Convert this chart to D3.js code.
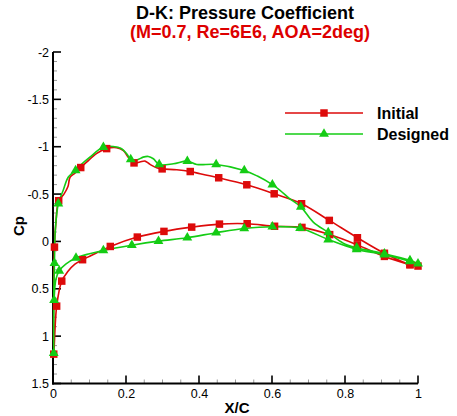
<!DOCTYPE html>
<html>
<head>
<meta charset="utf-8">
<script src="https://cdn.jsdelivr.net/npm/d3@7"></script>
<style>
  html, body { margin: 0; padding: 0; background: #fff; }
  svg { display: block; font-family: "Liberation Sans", Arial, sans-serif; }
</style>
</head>
<body>
<svg id="chart" width="457" height="416"></svg>
<script>
// ---- Data (X/C, Cp) ----
const titleText = "D-K: Pressure Coefficient";
const subtitleText = "(M=0.7, Re=6E6, AOA=2deg)";
const seriesNames = ["Initial", "Designed"];
const xTicks = [0, 0.2, 0.4, 0.6, 0.8, 1];
const xTickLabels = ["0", "0.2", "0.4", "0.6", "0.8", "1"];
const yTicks = [-2, -1.5, -1, -0.5, 0, 0.5, 1, 1.5];
const yTickLabels = ["-2", "-1.5", "-1", "-0.5", "0", "0.5", "1", "1.5"];

// Initial: upper surface TE -> LE, then lower surface LE -> TE
const initialX = [1.0, 0.978, 0.908, 0.834, 0.757, 0.681, 0.606, 0.531, 0.454, 0.403, 0.376, 0.339, 0.299, 0.284, 0.266, 0.252, 0.238, 0.222, 0.206, 0.193, 0.174, 0.147, 0.12, 0.092, 0.076, 0.06, 0.047, 0.041, 0.03, 0.0156, 0.008, 0.004, 0.002, 0.002,
                  0.010, 0.024, 0.04, 0.06, 0.081, 0.12, 0.157, 0.231, 0.304, 0.380, 0.456, 0.532, 0.607, 0.682, 0.758, 0.834, 0.908, 0.978, 1.0];
const initialCp = [0.26, 0.245, 0.125, -0.039, -0.222, -0.398, -0.503, -0.598, -0.672, -0.715, -0.738, -0.757, -0.766, -0.778, -0.813, -0.848, -0.838, -0.829, -0.89, -0.96, -0.99, -0.98, -0.93, -0.837, -0.78, -0.72, -0.68, -0.58, -0.5, -0.43, -0.2, 0.06, 0.6, 1.19,
                   0.683, 0.419, 0.32, 0.24, 0.193, 0.12, 0.053, -0.046, -0.106, -0.151, -0.183, -0.187, -0.16, -0.148, -0.072, 0.037, 0.158, 0.246, 0.27];
const initialMarkX = [1.0, 0.978, 0.908, 0.834, 0.757, 0.681, 0.606, 0.531, 0.454, 0.376, 0.299, 0.222, 0.147, 0.076, 0.0156, 0.004, 0.002,
                      0.010, 0.024, 0.081, 0.157, 0.231, 0.304, 0.380, 0.456, 0.532, 0.607, 0.682, 0.758, 0.834, 0.908, 0.978];
const initialMarkCp = [0.26, 0.245, 0.125, -0.039, -0.222, -0.398, -0.503, -0.598, -0.672, -0.738, -0.766, -0.829, -0.98, -0.78, -0.43, 0.06, 1.19,
                       0.683, 0.419, 0.193, 0.053, -0.046, -0.106, -0.151, -0.183, -0.187, -0.16, -0.148, -0.072, 0.037, 0.158, 0.246];

// Designed
const designedX = [1.0, 0.978, 0.908, 0.832, 0.795, 0.754, 0.713, 0.679, 0.649, 0.622, 0.601, 0.56, 0.524, 0.447, 0.394, 0.368, 0.33, 0.291, 0.275, 0.261, 0.247, 0.231, 0.213, 0.202, 0.188, 0.165, 0.138, 0.101, 0.074, 0.062, 0.042, 0.028, 0.0146, 0.006, 0.004, 0.002, 0.002,
                   0.003, 0.008, 0.017, 0.035, 0.063, 0.10, 0.138, 0.216, 0.289, 0.368, 0.447, 0.524, 0.601, 0.677, 0.754, 0.832, 0.908, 0.978, 1.0];
const designedCp = [0.235, 0.20, 0.13, 0.067, 0.018, -0.095, -0.204, -0.365, -0.45, -0.54, -0.60, -0.69, -0.75, -0.813, -0.813, -0.848, -0.82, -0.812, -0.873, -0.897, -0.89, -0.863, -0.866, -0.926, -0.979, -1.003, -0.996, -0.89, -0.80, -0.75, -0.68, -0.54, -0.40, -0.1, 0.23, 0.6, 1.18,
                    0.62, 0.40, 0.31, 0.24, 0.175, 0.13, 0.095, 0.04, -0.003, -0.039, -0.092, -0.137, -0.155, -0.14, -0.02, 0.085, 0.14, 0.21, 0.235];
const designedMarkX = [1.0, 0.978, 0.908, 0.832, 0.754, 0.679, 0.601, 0.524, 0.447, 0.368, 0.291, 0.213, 0.138, 0.062, 0.0146, 0.004, 0.002,
                       0.003, 0.017, 0.063, 0.138, 0.216, 0.289, 0.368, 0.447, 0.524, 0.601, 0.677, 0.754, 0.832, 0.908, 0.978];
const designedMarkCp = [0.235, 0.20, 0.13, 0.067, -0.095, -0.365, -0.60, -0.75, -0.813, -0.848, -0.812, -0.866, -0.996, -0.75, -0.40, 0.23, 1.18,
                        0.62, 0.31, 0.175, 0.095, 0.04, -0.003, -0.039, -0.092, -0.137, -0.155, -0.14, -0.02, 0.085, 0.14, 0.21];

const RED = "#dd0a0a";
const GREEN = "#14cc14";

// ---- Layout ----
const svg = d3.select("#chart");
const x = d3.scaleLinear().domain([0, 1]).range([53, 418]);
const y = d3.scaleLinear().domain([-2, 1.5]).range([52, 383.5]);

// Title
svg.append("text").attr("x", 245).attr("y", 19).attr("text-anchor", "middle")
  .attr("font-size", 18).attr("font-weight", "bold").attr("fill", "#000").text(titleText);
svg.append("text").attr("x", 250).attr("y", 38).attr("text-anchor", "middle")
  .attr("font-size", 18).attr("font-weight", "bold").attr("fill", "#dd0000").text(subtitleText);

// Axes
const gx = svg.append("g").attr("transform", `translate(0,${y(1.5)})`);
gx.call(d3.axisBottom(x).tickValues(xTicks).tickFormat((d, i) => xTickLabels[i]).tickSize(0).tickPadding(6));
gx.select(".domain").remove();
gx.selectAll("text").attr("font-size", 12.5).attr("font-family", "Liberation Sans, Arial, sans-serif").attr("fill", "#000");

const gy = svg.append("g").attr("transform", `translate(${x(0)},0)`);
gy.call(d3.axisLeft(y).tickValues(yTicks).tickFormat((d, i) => yTickLabels[i]).tickSize(0).tickPadding(4));
gy.select(".domain").remove();
gy.selectAll("text").attr("font-size", 12.5).attr("font-family", "Liberation Sans, Arial, sans-serif").attr("fill", "#000");

// Ticks (inward)
const isMajX = d => Math.abs(Math.round(d * 5) - d * 5) < 1e-6;
const isMajY = d => Math.abs(Math.round(d * 2) - d * 2) < 1e-6;
const ticksG = svg.append("g");
const xMinor = d3.range(0, 1.0001, 0.05);
ticksG.selectAll("line.xt").data(xMinor).enter().append("line")
  .attr("x1", d => x(d)).attr("x2", d => x(d))
  .attr("y1", y(1.5)).attr("y2", d => y(1.5) - (isMajX(d) ? 8 : 4))
  .attr("stroke-width", d => (isMajX(d) ? 1.6 : 1))
  .attr("stroke", d => (isMajX(d) ? "#000" : "#999"));
const yMinor = d3.range(-2, 1.5001, 0.1);
ticksG.selectAll("line.yt").data(yMinor).enter().append("line")
  .attr("y1", d => y(d)).attr("y2", d => y(d))
  .attr("x1", x(0)).attr("x2", d => x(0) + (isMajY(d) ? 8 : 4))
  .attr("stroke-width", d => (isMajY(d) ? 1.6 : 1))
  .attr("stroke", d => (isMajY(d) ? "#000" : "#999"));

// Axis lines
svg.append("line").attr("x1", x(0)).attr("x2", x(0)).attr("y1", y(-2)).attr("y2", y(1.5) + 1)
  .attr("stroke", "#000").attr("stroke-width", 2);
svg.append("line").attr("x1", x(0) - 1).attr("x2", x(1)).attr("y1", y(1.5)).attr("y2", y(1.5))
  .attr("stroke", "#000").attr("stroke-width", 2);

// Axis titles
svg.append("text").attr("x", 237).attr("y", 413).attr("text-anchor", "middle")
  .attr("font-size", 15).attr("font-weight", "bold").text("X/C");
svg.append("text").attr("transform", "translate(24,226) rotate(-90)").attr("text-anchor", "middle")
  .attr("font-size", 15).attr("font-weight", "bold").text("Cp");

// Lines
const line = d3.line().x(d => x(d[0])).y(d => y(d[1])).curve(d3.curveCatmullRom.alpha(0.5));
const initialPts = d3.zip(initialX, initialCp);
const designedPts = d3.zip(designedX, designedCp);

svg.append("path").attr("d", line(initialPts)).attr("fill", "none").attr("stroke", RED).attr("stroke-width", 1.6);
svg.append("path").attr("d", line(designedPts)).attr("fill", "none").attr("stroke", GREEN).attr("stroke-width", 1.6);

const sq = d3.symbol().type(d3.symbolSquare).size(56);
const tri = d3.symbol().type(d3.symbolTriangle).size(42);

svg.append("g").selectAll("path").data(d3.zip(initialMarkX, initialMarkCp)).enter().append("path")
  .attr("d", sq).attr("transform", d => `translate(${x(d[0])},${y(d[1])})`).attr("fill", RED);
svg.append("g").selectAll("path").data(d3.zip(designedMarkX, designedMarkCp)).enter().append("path")
  .attr("d", tri).attr("transform", d => `translate(${x(d[0])},${y(d[1])})`).attr("fill", GREEN);

// Legend
const legend = [{ name: seriesNames[0], color: RED, sym: sq, yy: 113 }, { name: seriesNames[1], color: GREEN, sym: tri, yy: 134 }];
const lg = svg.append("g");
legend.forEach(l => {
  lg.append("line").attr("x1", 285).attr("x2", 363).attr("y1", l.yy).attr("y2", l.yy)
    .attr("stroke", l.color).attr("stroke-width", 1.6);
  lg.append("path").attr("d", l.sym).attr("transform", `translate(324,${l.yy})`).attr("fill", l.color);
  lg.append("text").attr("x", 377).attr("y", l.yy + 6).attr("font-size", 16).attr("font-weight", "bold").text(l.name);
});
</script>
</body>
</html>
